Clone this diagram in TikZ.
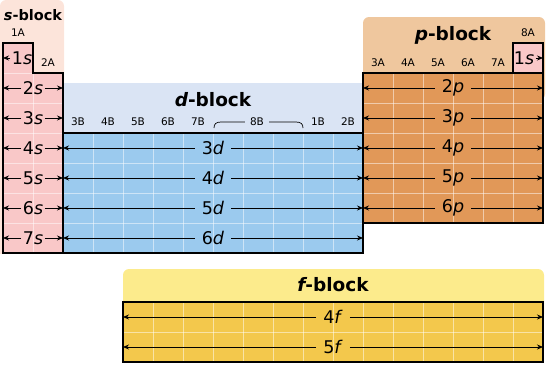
\documentclass[tikz,border=0pt]{standalone}
\usepackage{fontspec}
\setmainfont{DejaVu Sans}
\usetikzlibrary{arrows.meta}
\definecolor{sCell}{HTML}{F9C8C8}
\definecolor{sHead}{HTML}{FCE4DA}
\definecolor{dCell}{HTML}{9BCAEE}
\definecolor{dHead}{HTML}{DAE4F4}
\definecolor{pCell}{HTML}{E19858}
\definecolor{pHead}{HTML}{EFC79E}
\definecolor{fCell}{HTML}{F3C84C}
\definecolor{fHead}{HTML}{FCEB8C}
\begin{document}
\begin{tikzpicture}[x=1pt,y=-1pt,
  blk/.style={draw=black,line width=1.4pt},
  gridline/.style={white,opacity=0.5,line width=0.7pt},
  arr/.style={-{Stealth[length=6pt,width=5pt]},line width=0.8pt},
  orb/.style={font=\fontsize{17.5}{19}\selectfont,inner sep=1.5pt},
  orbw/.style={font=\fontsize{17.5}{19}\selectfont,inner sep=7pt},
  grp/.style={font=\fontsize{10.5}{12}\selectfont,inner sep=0pt},
  ttl/.style={font=\fontsize{18.5}{21}\selectfont\bfseries,inner sep=0pt},
  ttls/.style={font=\fontsize{14.5}{17}\selectfont\bfseries,inner sep=0pt}]
\useasboundingbox (0,0) rectangle (547,365);
% header backgrounds
\fill[sHead,rounded corners=6pt] (0,0) rectangle (64,120);
\fill[sHead] (0,60) rectangle (64,254);
\fill[pHead,rounded corners=6pt] (363,17) rectangle (545,100);
\fill[dHead] (63,83) rectangle (363,134);
\fill[fHead,rounded corners=6pt] (123,269) rectangle (544,320);
% cells
\fill[sCell] (3,43) -- (33,43) -- (33,73) -- (63,73) -- (63,253) -- (3,253) -- cycle;
\fill[dCell] (63,133) rectangle (363,253);
\fill[pCell] (363,73) rectangle (543,223);
\fill[sCell] (513,43) rectangle (543,73);
\fill[fCell] (123,302) rectangle (543,362);
% grid lines
\draw[gridline] (33,73) -- (33,253);
\draw[gridline] (3,73) -- (33,73);
\foreach \y in {103,133,...,223} \draw[gridline] (3,\y) -- (63,\y);
\foreach \x in {93,123,...,333} \draw[gridline] (\x,133) -- (\x,253);
\foreach \y in {163,193,223} \draw[gridline] (63,\y) -- (363,\y);
\foreach \x in {393,423,...,513} \draw[gridline] (\x,73) -- (\x,223);
\foreach \y in {103,133,...,193} \draw[gridline] (363,\y) -- (543,\y);
\foreach \x in {153,183,...,513} \draw[gridline] (\x,302) -- (\x,362);
\draw[gridline] (123,332) -- (543,332);
% outlines
\draw[blk] (3,43) -- (33,43) -- (33,73) -- (63,73) -- (63,253) -- (3,253) -- cycle;
\draw[blk] (63,133) rectangle (363,253);
\draw[blk] (363,73) rectangle (543,223);
\draw[blk] (513,43) rectangle (543,73);
\draw[blk] (123,302) rectangle (543,362);
% titles
\node[ttls] (st) at (33,15) {\itshape s\upshape-block};
\node[ttl] (dt) at (213,100) {\itshape d\upshape-block};
\node[ttl] (pt) at (453,35) {\itshape p\upshape-block};
\node[ttl] (ft) at (333,285) {\itshape f\upshape-block};
% group labels
\node[grp] (g1A) at (18,33) {1A};
\node[grp] (g2A) at (48,63) {2A};
\foreach \n/\x in {3/78,4/108,5/138,6/168,7/198}
  \node[grp] (g\n B) at (\x,122) {\n B};
\node[grp] (g8B) at (257,122) {8B};
\node[grp] (g1B) at (318,122) {1B};
\node[grp] (g2B) at (348,122) {2B};
\foreach \n/\x in {3/378,4/408,5/438,6/468,7/498}
  \node[grp] (g\n A) at (\x,63) {\n A};
\node[grp] (g8A) at (528,33) {8A};
\draw[line width=0.7pt] ([xshift=-5pt]g8B.west) -- (221,122) .. controls (216,122) and (214,124) .. (214,128);
\draw[line width=0.7pt] ([xshift=5pt]g8B.east) -- (296,122) .. controls (301,122) and (303,124) .. (303,128);
% s-block orbitals
\node[orb] (h1s) at (22,58) {1\textit{s}};
\coordinate (h1sL) at (3,58);
\draw[arr] (h1s) -- (h1sL);
\foreach \r in {2,...,7}{
  \pgfmathtruncatemacro{\yy}{58+30*(\r-1)}
  \node[orb] (s\r) at (33,\yy) {\r\textit{s}};
  \coordinate (s\r L) at (3,\yy);
  \coordinate (s\r R) at (63,\yy);
  \draw[arr] (s\r) -- (s\r L);
  \draw[arr] (s\r) -- (s\r R);
}
% He
\node[orb] (he1s) at (524,58) {1\textit{s}};
\coordinate (he1sR) at (543,58);
\draw[arr] (he1s) -- (he1sR);
% d-block
\foreach \r in {4,...,7}{
  \pgfmathtruncatemacro{\yy}{58+30*(\r-1)}
  \pgfmathtruncatemacro{\nn}{\r-1}
  \node[orbw] (d\r) at (213,\yy) {\nn\textit{d}};
  \coordinate (d\r L) at (63,\yy);
  \coordinate (d\r R) at (363,\yy);
  \draw[arr] (d\r) -- (d\r L);
  \draw[arr] (d\r) -- (d\r R);
}
% p-block
\foreach \r in {2,...,6}{
  \pgfmathtruncatemacro{\yy}{58+30*(\r-1)}
  \node[orbw] (p\r) at (453,\yy) {\r\textit{p}};
  \coordinate (p\r L) at (363,\yy);
  \coordinate (p\r R) at (543,\yy);
  \draw[arr] (p\r) -- (p\r L);
  \draw[arr] (p\r) -- (p\r R);
}
% f-block
\foreach \n/\yy in {4/317,5/347}{
  \node[orbw] (f\n) at (333,\yy) {\n\textit{f}};
  \coordinate (f\n L) at (123,\yy);
  \coordinate (f\n R) at (543,\yy);
  \draw[arr] (f\n) -- (f\n L);
  \draw[arr] (f\n) -- (f\n R);
}
\end{tikzpicture}
\end{document}
